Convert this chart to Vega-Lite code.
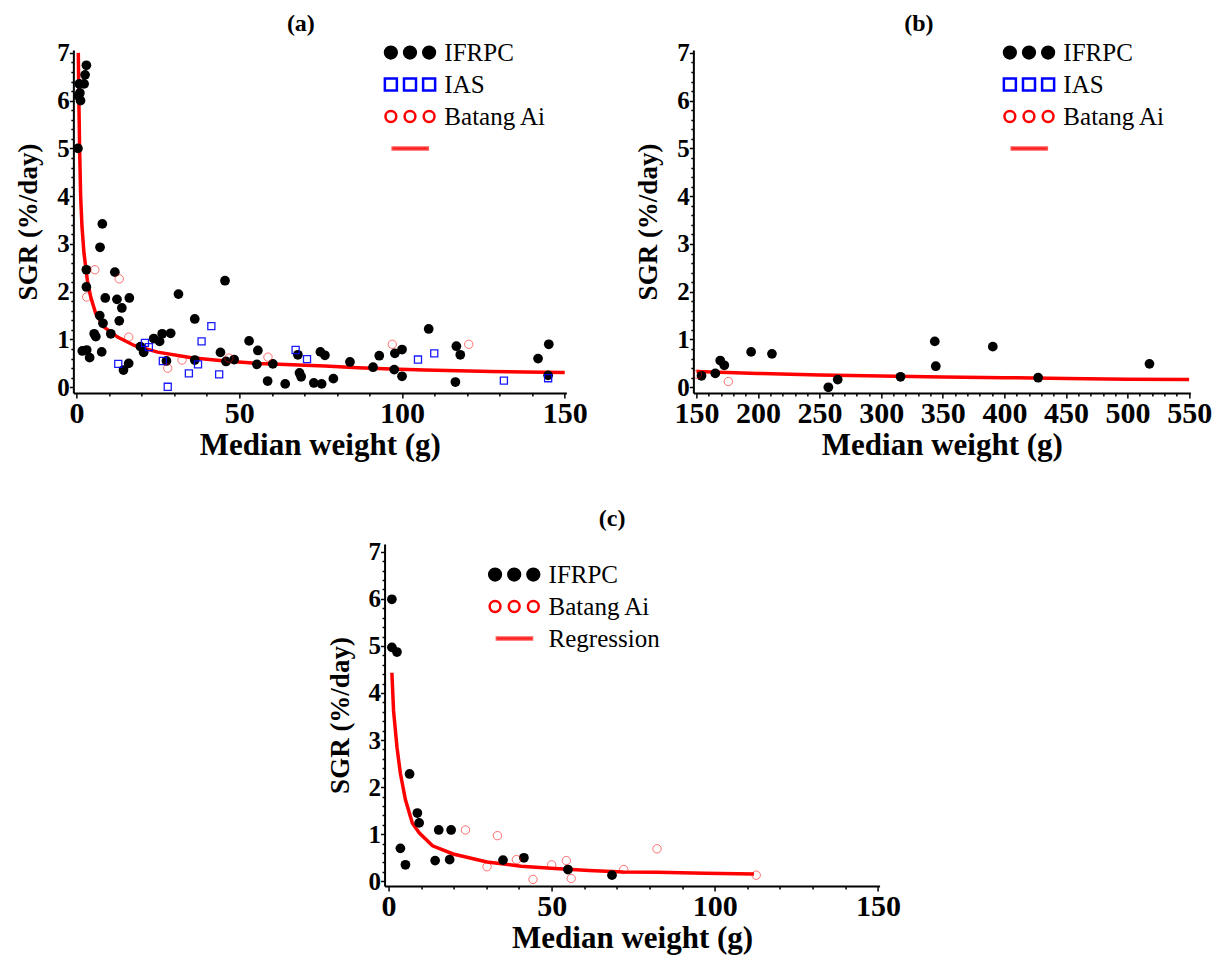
{
  "$schema": "https://vega.github.io/schema/vega-lite/v6.json",
  "background": "white",
  "padding": {"left": 14, "top": 12, "right": 2, "bottom": 3},
  "datasets": {
    "a": [
      {"series": "IFRPC", "w": 3.0, "sgr": 6.74}, {"series": "IFRPC", "w": 2.6, "sgr": 6.54}, {"series": "IFRPC", "w": 2.3, "sgr": 6.35}, {"series": "IFRPC", "w": 0.8, "sgr": 6.35}, {"series": "IFRPC", "w": 1.0, "sgr": 6.16}, {"series": "IFRPC", "w": 0.6, "sgr": 6.1}, {"series": "IFRPC", "w": 1.2, "sgr": 6.0}, {"series": "IFRPC", "w": 0.4, "sgr": 5.0},
      {"series": "IFRPC", "w": 7.9, "sgr": 3.42}, {"series": "IFRPC", "w": 7.2, "sgr": 2.93}, {"series": "IFRPC", "w": 3.0, "sgr": 2.46}, {"series": "IFRPC", "w": 3.0, "sgr": 2.1}, {"series": "IFRPC", "w": 11.75, "sgr": 2.41}, {"series": "IFRPC", "w": 8.8, "sgr": 1.87}, {"series": "IFRPC", "w": 12.4, "sgr": 1.84}, {"series": "IFRPC", "w": 16.2, "sgr": 1.87}, {"series": "IFRPC", "w": 13.9, "sgr": 1.66}, {"series": "IFRPC", "w": 7.1, "sgr": 1.5}, {"series": "IFRPC", "w": 8.1, "sgr": 1.34}, {"series": "IFRPC", "w": 13.1, "sgr": 1.39}, {"series": "IFRPC", "w": 5.4, "sgr": 1.12}, {"series": "IFRPC", "w": 5.9, "sgr": 1.06}, {"series": "IFRPC", "w": 10.5, "sgr": 1.12}, {"series": "IFRPC", "w": 1.75, "sgr": 0.76}, {"series": "IFRPC", "w": 3.1, "sgr": 0.78}, {"series": "IFRPC", "w": 4.0, "sgr": 0.62}, {"series": "IFRPC", "w": 7.7, "sgr": 0.74}, {"series": "IFRPC", "w": 16.0, "sgr": 0.5}, {"series": "IFRPC", "w": 14.4, "sgr": 0.36}, {"series": "IFRPC", "w": 19.6, "sgr": 0.85}, {"series": "IFRPC", "w": 20.6, "sgr": 0.73}, {"series": "IFRPC", "w": 23.7, "sgr": 1.02}, {"series": "IFRPC", "w": 25.5, "sgr": 0.96}, {"series": "IFRPC", "w": 26.3, "sgr": 1.12}, {"series": "IFRPC", "w": 28.9, "sgr": 1.13}, {"series": "IFRPC", "w": 27.6, "sgr": 0.55}, {"series": "IFRPC", "w": 31.3, "sgr": 1.95}, {"series": "IFRPC", "w": 36.3, "sgr": 1.43}, {"series": "IFRPC", "w": 36.3, "sgr": 0.57}, {"series": "IFRPC", "w": 45.6, "sgr": 2.23}, {"series": "IFRPC", "w": 44.2, "sgr": 0.73}, {"series": "IFRPC", "w": 45.9, "sgr": 0.54}, {"series": "IFRPC", "w": 48.4, "sgr": 0.58}, {"series": "IFRPC", "w": 53.0, "sgr": 0.97}, {"series": "IFRPC", "w": 55.7, "sgr": 0.77}, {"series": "IFRPC", "w": 55.4, "sgr": 0.48}, {"series": "IFRPC", "w": 60.3, "sgr": 0.49}, {"series": "IFRPC", "w": 58.7, "sgr": 0.13}, {"series": "IFRPC", "w": 64.1, "sgr": 0.07}, {"series": "IFRPC", "w": 68.0, "sgr": 0.68}, {"series": "IFRPC", "w": 68.5, "sgr": 0.3}, {"series": "IFRPC", "w": 69.0, "sgr": 0.22}, {"series": "IFRPC", "w": 72.9, "sgr": 0.09}, {"series": "IFRPC", "w": 74.9, "sgr": 0.74}, {"series": "IFRPC", "w": 76.3, "sgr": 0.67}, {"series": "IFRPC", "w": 75.3, "sgr": 0.07}, {"series": "IFRPC", "w": 78.9, "sgr": 0.18}, {"series": "IFRPC", "w": 84.0, "sgr": 0.53}, {"series": "IFRPC", "w": 91.1, "sgr": 0.42}, {"series": "IFRPC", "w": 93.0, "sgr": 0.66}, {"series": "IFRPC", "w": 97.8, "sgr": 0.71}, {"series": "IFRPC", "w": 97.6, "sgr": 0.37}, {"series": "IFRPC", "w": 100.0, "sgr": 0.79}, {"series": "IFRPC", "w": 100.0, "sgr": 0.23}, {"series": "IFRPC", "w": 108.2, "sgr": 1.22}, {"series": "IFRPC", "w": 116.7, "sgr": 0.86}, {"series": "IFRPC", "w": 116.4, "sgr": 0.11}, {"series": "IFRPC", "w": 117.9, "sgr": 0.68}, {"series": "IFRPC", "w": 141.8, "sgr": 0.6}, {"series": "IFRPC", "w": 145.1, "sgr": 0.9}, {"series": "IFRPC", "w": 144.9, "sgr": 0.25},
      {"series": "IAS", "w": 12.8, "sgr": 0.49}, {"series": "IAS", "w": 21.0, "sgr": 0.93}, {"series": "IAS", "w": 22.2, "sgr": 0.84}, {"series": "IAS", "w": 26.5, "sgr": 0.55}, {"series": "IAS", "w": 28.0, "sgr": 0.01}, {"series": "IAS", "w": 34.5, "sgr": 0.29}, {"series": "IAS", "w": 37.3, "sgr": 0.48}, {"series": "IAS", "w": 38.4, "sgr": 0.96}, {"series": "IAS", "w": 41.4, "sgr": 1.28}, {"series": "IAS", "w": 43.8, "sgr": 0.27}, {"series": "IAS", "w": 67.3, "sgr": 0.78}, {"series": "IAS", "w": 70.8, "sgr": 0.59}, {"series": "IAS", "w": 104.9, "sgr": 0.58}, {"series": "IAS", "w": 109.9, "sgr": 0.71}, {"series": "IAS", "w": 131.3, "sgr": 0.14}, {"series": "IAS", "w": 144.9, "sgr": 0.19},
      {"series": "Batang Ai", "w": 5.6, "sgr": 2.46}, {"series": "Batang Ai", "w": 3.1, "sgr": 1.89}, {"series": "Batang Ai", "w": 13.1, "sgr": 2.27}, {"series": "Batang Ai", "w": 16.0, "sgr": 1.05}, {"series": "Batang Ai", "w": 28.0, "sgr": 0.4}, {"series": "Batang Ai", "w": 32.4, "sgr": 0.57}, {"series": "Batang Ai", "w": 46.8, "sgr": 0.61}, {"series": "Batang Ai", "w": 58.8, "sgr": 0.63}, {"series": "Batang Ai", "w": 97.0, "sgr": 0.9}, {"series": "Batang Ai", "w": 120.5, "sgr": 0.9},
      {"series": "Regression", "w": 0.52, "sgr": 7.0}, {"series": "Regression", "w": 0.72, "sgr": 5.88}, {"series": "Regression", "w": 0.93, "sgr": 4.97}, {"series": "Regression", "w": 1.24, "sgr": 3.99}, {"series": "Regression", "w": 1.65, "sgr": 3.36}, {"series": "Regression", "w": 2.27, "sgr": 2.8}, {"series": "Regression", "w": 3.3, "sgr": 2.24}, {"series": "Regression", "w": 4.33, "sgr": 1.89}, {"series": "Regression", "w": 5.9, "sgr": 1.54}, {"series": "Regression", "w": 8.45, "sgr": 1.26}, {"series": "Regression", "w": 12.6, "sgr": 1.05}, {"series": "Regression", "w": 17.7, "sgr": 0.875}, {"series": "Regression", "w": 24.9, "sgr": 0.735}, {"series": "Regression", "w": 35.3, "sgr": 0.62}, {"series": "Regression", "w": 45.6, "sgr": 0.55}, {"series": "Regression", "w": 55.9, "sgr": 0.5}, {"series": "Regression", "w": 66.2, "sgr": 0.47}, {"series": "Regression", "w": 76.3, "sgr": 0.445}, {"series": "Regression", "w": 86.5, "sgr": 0.41}, {"series": "Regression", "w": 96.8, "sgr": 0.38}, {"series": "Regression", "w": 107, "sgr": 0.36}, {"series": "Regression", "w": 117.2, "sgr": 0.345}, {"series": "Regression", "w": 127.5, "sgr": 0.33}, {"series": "Regression", "w": 137.7, "sgr": 0.32}, {"series": "Regression", "w": 150, "sgr": 0.31}
    ],
    "b": [
      {"series": "IFRPC", "w": 154.1, "sgr": 0.24}, {"series": "IFRPC", "w": 165.3, "sgr": 0.29}, {"series": "IFRPC", "w": 169.3, "sgr": 0.56}, {"series": "IFRPC", "w": 172.6, "sgr": 0.46}, {"series": "IFRPC", "w": 194.4, "sgr": 0.74}, {"series": "IFRPC", "w": 211.3, "sgr": 0.7}, {"series": "IFRPC", "w": 257.1, "sgr": 0.0}, {"series": "IFRPC", "w": 264.7, "sgr": 0.16}, {"series": "IFRPC", "w": 315.7, "sgr": 0.22}, {"series": "IFRPC", "w": 343.5, "sgr": 0.96}, {"series": "IFRPC", "w": 344.3, "sgr": 0.44}, {"series": "IFRPC", "w": 390.6, "sgr": 0.85}, {"series": "IFRPC", "w": 427.4, "sgr": 0.2}, {"series": "IFRPC", "w": 517.8, "sgr": 0.49},
      {"series": "Batang Ai", "w": 150.8, "sgr": 0.27}, {"series": "Batang Ai", "w": 175.9, "sgr": 0.12},
      {"series": "Regression", "w": 150, "sgr": 0.33}, {"series": "Regression", "w": 200, "sgr": 0.29}, {"series": "Regression", "w": 250, "sgr": 0.255}, {"series": "Regression", "w": 300, "sgr": 0.235}, {"series": "Regression", "w": 350, "sgr": 0.215}, {"series": "Regression", "w": 400, "sgr": 0.2}, {"series": "Regression", "w": 450, "sgr": 0.185}, {"series": "Regression", "w": 500, "sgr": 0.17}, {"series": "Regression", "w": 550, "sgr": 0.16}
    ],
    "c": [
      {"series": "IFRPC", "w": 1.04, "sgr": 5.99}, {"series": "IFRPC", "w": 1.04, "sgr": 4.97}, {"series": "IFRPC", "w": 2.6, "sgr": 4.87}, {"series": "IFRPC", "w": 6.46, "sgr": 2.28}, {"series": "IFRPC", "w": 8.85, "sgr": 1.45}, {"series": "IFRPC", "w": 9.4, "sgr": 1.24}, {"series": "IFRPC", "w": 15.4, "sgr": 1.09}, {"series": "IFRPC", "w": 19.2, "sgr": 1.09}, {"series": "IFRPC", "w": 3.65, "sgr": 0.7}, {"series": "IFRPC", "w": 5.2, "sgr": 0.35}, {"series": "IFRPC", "w": 14.3, "sgr": 0.44}, {"series": "IFRPC", "w": 18.75, "sgr": 0.46}, {"series": "IFRPC", "w": 35.1, "sgr": 0.45}, {"series": "IFRPC", "w": 41.5, "sgr": 0.5}, {"series": "IFRPC", "w": 55.0, "sgr": 0.25}, {"series": "IFRPC", "w": 68.5, "sgr": 0.13},
      {"series": "Batang Ai", "w": 23.6, "sgr": 1.09}, {"series": "Batang Ai", "w": 33.4, "sgr": 0.97}, {"series": "Batang Ai", "w": 30.2, "sgr": 0.31}, {"series": "Batang Ai", "w": 39.2, "sgr": 0.46}, {"series": "Batang Ai", "w": 44.3, "sgr": 0.04}, {"series": "Batang Ai", "w": 50.0, "sgr": 0.35}, {"series": "Batang Ai", "w": 54.5, "sgr": 0.44}, {"series": "Batang Ai", "w": 56.0, "sgr": 0.06}, {"series": "Batang Ai", "w": 72.1, "sgr": 0.25}, {"series": "Batang Ai", "w": 82.3, "sgr": 0.69}, {"series": "Batang Ai", "w": 112.7, "sgr": 0.13},
      {"series": "Regression", "w": 1.04, "sgr": 4.43}, {"series": "Regression", "w": 1.56, "sgr": 3.62}, {"series": "Regression", "w": 2.6, "sgr": 2.85}, {"series": "Regression", "w": 3.65, "sgr": 2.29}, {"series": "Regression", "w": 5.2, "sgr": 1.73}, {"series": "Regression", "w": 7.3, "sgr": 1.24}, {"series": "Regression", "w": 9.4, "sgr": 1.03}, {"series": "Regression", "w": 13.5, "sgr": 0.755}, {"series": "Regression", "w": 19.8, "sgr": 0.58}, {"series": "Regression", "w": 30.2, "sgr": 0.41}, {"series": "Regression", "w": 40.6, "sgr": 0.32}, {"series": "Regression", "w": 51, "sgr": 0.27}, {"series": "Regression", "w": 61.5, "sgr": 0.23}, {"series": "Regression", "w": 71.9, "sgr": 0.2}, {"series": "Regression", "w": 82.3, "sgr": 0.19}, {"series": "Regression", "w": 97, "sgr": 0.17}, {"series": "Regression", "w": 112, "sgr": 0.155}
    ]
  },
  "vconcat": [
    {
      "hconcat": [
        {
          "title": {"text": "(a)", "dx": -19},
          "width": 493,
          "height": 343,
          "data": {"name": "a"},
          "encoding": {
            "x": {"field": "w", "type": "quantitative", "scale": {"domain": [-1, 150.5], "nice": false, "zero": false},
              "axis": {"title": "Median weight (g)", "values": [0,10,20,30,40,50,60,70,80,90,100,110,120,130,140,150], "labelExpr": "datum.value % 50 === 0 ? '' + datum.value : ''", "tickSize": {"condition": {"test": "datum.value % 50 === 0", "value": 5}, "value": 3}}},
            "y": {"field": "sgr", "type": "quantitative", "scale": {"domain": [-0.12, 7.06], "nice": false, "zero": false},
              "axis": {"title": "SGR (%/day)", "values": [0,0.2,0.4,0.6,0.8,1,1.2,1.4,1.6,1.8,2,2.2,2.4,2.6,2.8,3,3.2,3.4,3.6,3.8,4,4.2,4.4,4.6,4.8,5,5.2,5.4,5.6,5.8,6,6.2,6.4,6.6,6.8,7], "labelExpr": "datum.value % 1 === 0 ? '' + datum.value : ''", "tickSize": {"condition": {"test": "datum.value % 1 === 0", "value": 4}, "value": 2.5}, "labelPadding": 0, "labelFontSize": 25, "titleFontSize": 27, "titlePadding": 14}},
            "color": {"field": "series", "type": "nominal",
              "scale": {"domain": ["IFRPC", "IAS", "Batang Ai", "Regression"], "range": ["#000000", "#0000ff", "#ff0000", "#ff0000"]},
              "legend": {"title": null, "orient": "none", "legendX": 305, "legendY": -10, "padding": 0, "labelFont": "Liberation Serif", "labelFontSize": 25, "labelColor": "black", "labelFontWeight": "normal", "symbolSize": 225, "symbolStrokeWidth": 1.5, "labelOffset": 41, "rowPadding": 6, "labelExpr": "datum.label === 'Regression' ? '' : datum.label",
                "encode": {"symbols": {"update": {
                  "shape": {"signal": "datum.value === 'Regression' ? 'M0.24,-0.12 L4.93,-0.12 L4.93,0.12 L0.24,0.12 Z' : datum.value === 'IAS' ? 'M-0.8,-0.8 L0.8,-0.8 L0.8,0.8 L-0.8,0.8 Z M1.75,-0.8 L3.35,-0.8 L3.35,0.8 L1.75,0.8 Z M4.3,-0.8 L5.9,-0.8 L5.9,0.8 L4.3,0.8 Z' : datum.value === 'IFRPC' ? 'M0.85,0 C0.85,0.47 0.47,0.85 0,0.85 C-0.47,0.85 -0.85,0.47 -0.85,0 C-0.85,-0.47 -0.47,-0.85 0,-0.85 C0.47,-0.85 0.85,-0.47 0.85,0 Z M3.4,0 C3.4,0.47 3.02,0.85 2.55,0.85 C2.08,0.85 1.7,0.47 1.7,0 C1.7,-0.47 2.08,-0.85 2.55,-0.85 C3.02,-0.85 3.4,-0.47 3.4,0 Z M5.95,0 C5.95,0.47 5.57,0.85 5.1,0.85 C4.63,0.85 4.25,0.47 4.25,0 C4.25,-0.47 4.63,-0.85 5.1,-0.85 C5.57,-0.85 5.95,-0.47 5.95,0 Z' : 'M0.72,0 C0.72,0.4 0.4,0.72 0,0.72 C-0.4,0.72 -0.72,0.4 -0.72,0 C-0.72,-0.4 -0.4,-0.72 0,-0.72 C0.4,-0.72 0.72,-0.4 0.72,0 Z M3.27,0 C3.27,0.4 2.95,0.72 2.55,0.72 C2.15,0.72 1.83,0.4 1.83,0 C1.83,-0.4 2.15,-0.72 2.55,-0.72 C2.95,-0.72 3.27,-0.4 3.27,0 Z M5.82,0 C5.82,0.4 5.5,0.72 5.1,0.72 C4.7,0.72 4.38,0.4 4.38,0 C4.38,-0.4 4.7,-0.72 5.1,-0.72 C5.5,-0.72 5.82,-0.4 5.82,0 Z'"},
                  "fillOpacity": {"signal": "datum.value === 'IFRPC' ? 1 : datum.value === 'Regression' ? 0.65 : 0"},
                  "strokeOpacity": {"signal": "datum.value === 'Regression' ? 0.65 : 1"},
                  "strokeWidth": {"signal": "datum.value === 'IFRPC' ? 1.5 : 2.5"},
                  "opacity": {"value": 1}
                }}}}}
          },
          "layer": [
            {"transform": [{"filter": "datum.series === 'Regression'"}], "mark": {"type": "line", "strokeWidth": 3.5, "clip": true}},
            {"transform": [{"filter": "datum.series === 'IFRPC'"}], "mark": {"type": "point", "shape": "circle", "filled": true, "size": 95, "opacity": 1, "clip": true}},
            {"transform": [{"filter": "datum.series === 'IAS'"}], "mark": {"type": "point", "shape": "square", "filled": false, "size": 50, "strokeWidth": 1.3, "strokeOpacity": 0.9, "opacity": 1, "clip": true}},
            {"transform": [{"filter": "datum.series === 'Batang Ai'"}], "mark": {"type": "point", "shape": "circle", "filled": false, "size": 70, "strokeWidth": 1, "strokeOpacity": 0.55, "opacity": 1, "clip": true}}
          ]
        },
        {
          "title": {"text": "(b)", "dx": -23},
          "width": 497,
          "height": 343,
          "data": {"name": "b"},
          "encoding": {
            "x": {"field": "w", "type": "quantitative", "scale": {"domain": [147.5, 551], "nice": false, "zero": false},
              "axis": {"title": "Median weight (g)", "values": [150,160,170,180,190,200,210,220,230,240,250,260,270,280,290,300,310,320,330,340,350,360,370,380,390,400,410,420,430,440,450,460,470,480,490,500,510,520,530,540,550], "labelExpr": "datum.value % 50 === 0 ? '' + datum.value : ''", "tickSize": {"condition": {"test": "datum.value % 50 === 0", "value": 5}, "value": 3}}},
            "y": {"field": "sgr", "type": "quantitative", "scale": {"domain": [-0.12, 7.06], "nice": false, "zero": false},
              "axis": {"title": "SGR (%/day)", "values": [0,0.2,0.4,0.6,0.8,1,1.2,1.4,1.6,1.8,2,2.2,2.4,2.6,2.8,3,3.2,3.4,3.6,3.8,4,4.2,4.4,4.6,4.8,5,5.2,5.4,5.6,5.8,6,6.2,6.4,6.6,6.8,7], "labelExpr": "datum.value % 1 === 0 ? '' + datum.value : ''", "tickSize": {"condition": {"test": "datum.value % 1 === 0", "value": 4}, "value": 2.5}, "labelPadding": 0, "labelFontSize": 25, "titleFontSize": 27, "titlePadding": 14}},
            "color": {"field": "series", "type": "nominal",
              "scale": {"domain": ["IFRPC", "IAS", "Batang Ai", "Regression"], "range": ["#000000", "#0000ff", "#ff0000", "#ff0000"]},
              "legend": {"title": null, "orient": "none", "legendX": 304, "legendY": -10, "padding": 0, "labelFont": "Liberation Serif", "labelFontSize": 25, "labelColor": "black", "labelFontWeight": "normal", "symbolSize": 225, "symbolStrokeWidth": 1.5, "labelOffset": 41, "rowPadding": 6, "labelExpr": "datum.label === 'Regression' ? '' : datum.label",
                "encode": {"symbols": {"update": {
                  "shape": {"signal": "datum.value === 'Regression' ? 'M0.24,-0.12 L4.93,-0.12 L4.93,0.12 L0.24,0.12 Z' : datum.value === 'IAS' ? 'M-0.8,-0.8 L0.8,-0.8 L0.8,0.8 L-0.8,0.8 Z M1.75,-0.8 L3.35,-0.8 L3.35,0.8 L1.75,0.8 Z M4.3,-0.8 L5.9,-0.8 L5.9,0.8 L4.3,0.8 Z' : datum.value === 'IFRPC' ? 'M0.85,0 C0.85,0.47 0.47,0.85 0,0.85 C-0.47,0.85 -0.85,0.47 -0.85,0 C-0.85,-0.47 -0.47,-0.85 0,-0.85 C0.47,-0.85 0.85,-0.47 0.85,0 Z M3.4,0 C3.4,0.47 3.02,0.85 2.55,0.85 C2.08,0.85 1.7,0.47 1.7,0 C1.7,-0.47 2.08,-0.85 2.55,-0.85 C3.02,-0.85 3.4,-0.47 3.4,0 Z M5.95,0 C5.95,0.47 5.57,0.85 5.1,0.85 C4.63,0.85 4.25,0.47 4.25,0 C4.25,-0.47 4.63,-0.85 5.1,-0.85 C5.57,-0.85 5.95,-0.47 5.95,0 Z' : 'M0.72,0 C0.72,0.4 0.4,0.72 0,0.72 C-0.4,0.72 -0.72,0.4 -0.72,0 C-0.72,-0.4 -0.4,-0.72 0,-0.72 C0.4,-0.72 0.72,-0.4 0.72,0 Z M3.27,0 C3.27,0.4 2.95,0.72 2.55,0.72 C2.15,0.72 1.83,0.4 1.83,0 C1.83,-0.4 2.15,-0.72 2.55,-0.72 C2.95,-0.72 3.27,-0.4 3.27,0 Z M5.82,0 C5.82,0.4 5.5,0.72 5.1,0.72 C4.7,0.72 4.38,0.4 4.38,0 C4.38,-0.4 4.7,-0.72 5.1,-0.72 C5.5,-0.72 5.82,-0.4 5.82,0 Z'"},
                  "fillOpacity": {"signal": "datum.value === 'IFRPC' ? 1 : datum.value === 'Regression' ? 0.65 : 0"},
                  "strokeOpacity": {"signal": "datum.value === 'Regression' ? 0.65 : 1"},
                  "strokeWidth": {"signal": "datum.value === 'IFRPC' ? 1.5 : 2.5"},
                  "opacity": {"value": 1}
                }}}}}
          },
          "layer": [
            {"transform": [{"filter": "datum.series === 'Regression'"}], "mark": {"type": "line", "strokeWidth": 3.5, "clip": true}},
            {"transform": [{"filter": "datum.series === 'IFRPC'"}], "mark": {"type": "point", "shape": "circle", "filled": true, "size": 95, "opacity": 1, "clip": true}},
            {"transform": [{"filter": "datum.series === 'Batang Ai'"}], "mark": {"type": "point", "shape": "circle", "filled": false, "size": 70, "strokeWidth": 1, "strokeOpacity": 0.55, "opacity": 1, "clip": true}}
          ]
        }
      ],
      "spacing": 47,
      "resolve": {"scale": {"color": "independent"}, "legend": {"color": "independent"}}
    },
    {
      "title": {"text": "(c)", "dx": -20, "offset": 9},
      "width": 495,
      "height": 342,
      "data": {"name": "c"},
      "encoding": {
        "x": {"field": "w", "type": "quantitative", "scale": {"domain": [-1.2, 150.5], "nice": false, "zero": false},
          "axis": {"title": "Median weight (g)", "values": [0,10,20,30,40,50,60,70,80,90,100,110,120,130,140,150], "labelExpr": "datum.value % 50 === 0 ? '' + datum.value : ''", "tickSize": {"condition": {"test": "datum.value % 50 === 0", "value": 5}, "value": 3}}},
        "y": {"field": "sgr", "type": "quantitative", "scale": {"domain": [-0.1, 7.165], "nice": false, "zero": false},
          "axis": {"title": "SGR (%/day)", "values": [0,0.2,0.4,0.6,0.8,1,1.2,1.4,1.6,1.8,2,2.2,2.4,2.6,2.8,3,3.2,3.4,3.6,3.8,4,4.2,4.4,4.6,4.8,5,5.2,5.4,5.6,5.8,6,6.2,6.4,6.6,6.8,7], "labelExpr": "datum.value % 1 === 0 ? '' + datum.value : ''", "tickSize": {"condition": {"test": "datum.value % 1 === 0", "value": 4}, "value": 2.5}, "labelPadding": 0, "labelFontSize": 25, "titleFontSize": 27, "titlePadding": 14}},
        "color": {"field": "series", "type": "nominal",
          "scale": {"domain": ["IFRPC", "Batang Ai", "Regression"], "range": ["#000000", "#ff0000", "#ff0000"]},
          "legend": {"title": null, "orient": "none", "legendX": 98, "legendY": 18, "padding": 0, "labelFont": "Liberation Serif", "labelFontSize": 25, "labelColor": "black", "labelFontWeight": "normal", "symbolSize": 225, "symbolStrokeWidth": 1.5, "labelOffset": 41, "rowPadding": 6,
            "encode": {"symbols": {"update": {
              "shape": {"signal": "datum.value === 'Regression' ? 'M0.24,-0.12 L4.93,-0.12 L4.93,0.12 L0.24,0.12 Z' : datum.value === 'IFRPC' ? 'M0.85,0 C0.85,0.47 0.47,0.85 0,0.85 C-0.47,0.85 -0.85,0.47 -0.85,0 C-0.85,-0.47 -0.47,-0.85 0,-0.85 C0.47,-0.85 0.85,-0.47 0.85,0 Z M3.4,0 C3.4,0.47 3.02,0.85 2.55,0.85 C2.08,0.85 1.7,0.47 1.7,0 C1.7,-0.47 2.08,-0.85 2.55,-0.85 C3.02,-0.85 3.4,-0.47 3.4,0 Z M5.95,0 C5.95,0.47 5.57,0.85 5.1,0.85 C4.63,0.85 4.25,0.47 4.25,0 C4.25,-0.47 4.63,-0.85 5.1,-0.85 C5.57,-0.85 5.95,-0.47 5.95,0 Z' : 'M0.72,0 C0.72,0.4 0.4,0.72 0,0.72 C-0.4,0.72 -0.72,0.4 -0.72,0 C-0.72,-0.4 -0.4,-0.72 0,-0.72 C0.4,-0.72 0.72,-0.4 0.72,0 Z M3.27,0 C3.27,0.4 2.95,0.72 2.55,0.72 C2.15,0.72 1.83,0.4 1.83,0 C1.83,-0.4 2.15,-0.72 2.55,-0.72 C2.95,-0.72 3.27,-0.4 3.27,0 Z M5.82,0 C5.82,0.4 5.5,0.72 5.1,0.72 C4.7,0.72 4.38,0.4 4.38,0 C4.38,-0.4 4.7,-0.72 5.1,-0.72 C5.5,-0.72 5.82,-0.4 5.82,0 Z'"},
              "fillOpacity": {"signal": "datum.value === 'IFRPC' ? 1 : datum.value === 'Regression' ? 0.65 : 0"},
              "strokeOpacity": {"signal": "datum.value === 'Regression' ? 0.65 : 1"},
              "strokeWidth": {"signal": "datum.value === 'IFRPC' ? 1.5 : 2.5"},
              "opacity": {"value": 1}
            }}}}}
      },
      "layer": [
        {"transform": [{"filter": "datum.series === 'Regression'"}], "mark": {"type": "line", "strokeWidth": 3.5, "clip": true}},
        {"transform": [{"filter": "datum.series === 'IFRPC'"}], "mark": {"type": "point", "shape": "circle", "filled": true, "size": 95, "opacity": 1, "clip": true}},
        {"transform": [{"filter": "datum.series === 'Batang Ai'"}], "mark": {"type": "point", "shape": "circle", "filled": false, "size": 70, "strokeWidth": 1, "strokeOpacity": 0.55, "opacity": 1, "clip": true}}
      ]
    }
  ],
  "spacing": 45,
  "center": true,
  "resolve": {"scale": {"color": "independent"}, "legend": {"color": "independent"}},
  "config": {
    "view": {"stroke": null},
    "font": "Liberation Serif",
    "title": {"font": "Liberation Serif", "fontSize": 24, "fontWeight": "bold", "color": "black", "anchor": "middle", "offset": 4},
    "axis": {"domainColor": "black", "domainWidth": 2, "tickColor": "black", "tickWidth": 1.5, "labelFont": "Liberation Serif", "labelFontWeight": "bold", "labelFontSize": 30, "labelColor": "black", "titleFont": "Liberation Serif", "titleFontWeight": "bold", "titleFontSize": 31, "titleColor": "black", "grid": false, "labelFlush": false, "labelPadding": 0.5, "titlePadding": 2, "labelOverlap": false}
  }
}
